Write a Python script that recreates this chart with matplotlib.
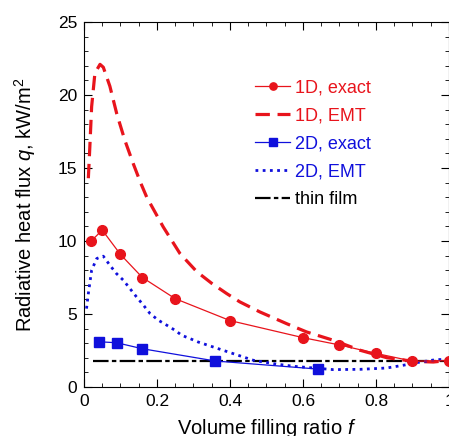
import numpy as np
import matplotlib
matplotlib.use("Agg")
import matplotlib.pyplot as plt
from matplotlib.ticker import MultipleLocator

# 1D grating, exact
f_1d = [0.02, 0.05, 0.10, 0.16, 0.25, 0.40, 0.60, 0.70, 0.80, 0.90, 1.00]
q_1d = [10.0, 10.75, 9.08, 7.5, 6.05, 4.55, 3.38, 2.88, 2.3, 1.77, 1.8]

# 1D EMT
f_1d_emt = [0.012, 0.016, 0.021, 0.030, 0.044, 0.053, 0.071, 0.090, 0.112, 0.135,
            0.155, 0.172, 0.217, 0.263, 0.309, 0.350, 0.391, 0.427, 0.482, 0.555, 0.610,
            0.683, 0.756, 0.829, 0.902, 0.957, 1.0]
q_1d_emt = [14.3, 16.4, 19.2, 21.5, 22.1, 21.9, 20.6, 18.7, 16.9, 15.3,
            14.0, 13.0, 10.97, 9.14, 7.9, 7.1, 6.4, 5.83, 5.14, 4.34, 3.77,
            3.2, 2.52, 2.01, 1.76, 1.71, 1.83]

# 2D, exact
f_2d = [0.04, 0.09, 0.16, 0.36, 0.64]
q_2d = [3.1, 3.03, 2.62, 1.78, 1.23]

# 2D EMT (dotted curve)
f_2d_emt = [0.007, 0.012, 0.021, 0.035, 0.053, 0.071, 0.089, 0.108, 0.126, 0.144,
            0.163, 0.181, 0.204, 0.227, 0.249, 0.268, 0.290, 0.313, 0.354, 0.395,
            0.464, 0.518, 0.573, 0.640, 0.683, 0.756, 0.829, 0.875, 0.921, 0.966, 1.0]
q_2d_emt = [5.37, 6.4, 8.0, 8.8, 8.96, 8.34, 7.77, 7.31, 6.74, 6.17,
            5.6, 5.03, 4.57, 4.23, 3.89, 3.54, 3.32, 3.08, 2.74, 2.4,
            1.83, 1.6, 1.42, 1.28, 1.19, 1.21, 1.30, 1.49, 1.71, 1.88, 1.88]

# thin film
f_film = [0.025, 1.0]
q_film = [1.78, 1.78]

RED = '#e8141c'
BLUE = '#1010dc'

plt.rcParams['font.family'] = ['Liberation Sans', 'DejaVu Sans']
plt.rcParams['mathtext.fontset'] = 'custom'
plt.rcParams['mathtext.rm'] = 'Liberation Sans'
plt.rcParams['mathtext.it'] = 'Liberation Sans:italic'

fig = plt.figure(figsize=(4.49, 4.36), dpi=100)
ax = fig.add_axes([0.187, 0.1124, 0.813, 0.8371])

ax.plot(f_1d, q_1d, '-o', color=RED, lw=0.9, ms=7, label='1D, exact', zorder=4)
ax.plot(f_1d_emt, q_1d_emt, color=RED, lw=2.3, ls=(0, (4.5, 2.4)), label='1D, EMT', zorder=3)
ax.plot(f_2d, q_2d, '-s', color=BLUE, lw=0.9, ms=7, label='2D, exact', zorder=4)
ax.plot(f_2d_emt, q_2d_emt, color=BLUE, lw=2.0, ls=(0, (1, 1.6)), label='2D, EMT', zorder=3)
ax.plot(f_film, q_film, color='black', lw=1.6, ls=(0, (7, 1.5, 2, 1.5)), label='thin film', zorder=2)

ax.set_xlim(0, 1)
ax.set_ylim(0, 25)
ax.xaxis.set_major_locator(MultipleLocator(0.2))
ax.xaxis.set_minor_locator(MultipleLocator(0.05))
ax.yaxis.set_major_locator(MultipleLocator(5))
ax.yaxis.set_minor_locator(MultipleLocator(1))
ax.set_xticks([0, 0.2, 0.4, 0.6, 0.8, 1.0])
ax.set_xticklabels(['0', '0.2', '0.4', '0.6', '0.8', '1'])
ax.tick_params(which='both', direction='in', top=True, right=True, labelsize=12.5, pad=5)
ax.tick_params(which='major', length=6)
ax.tick_params(which='minor', length=3)

ax.set_xlabel('Volume filling ratio $f$', fontsize=14.5, labelpad=5.5)
ax.set_ylabel('Radiative heat flux $q$, kW/m$^2$', fontsize=14.5)
ax.yaxis.set_label_coords(-0.127, 0.5)

leg = ax.legend(loc='upper left', bbox_to_anchor=(0.424, 0.887), frameon=False,
                fontsize=13, handlelength=1.95, handletextpad=0.28,
                labelspacing=0.6, labelcolor='linecolor', markerscale=0.75)

fig.savefig('out.png', dpi=100)
